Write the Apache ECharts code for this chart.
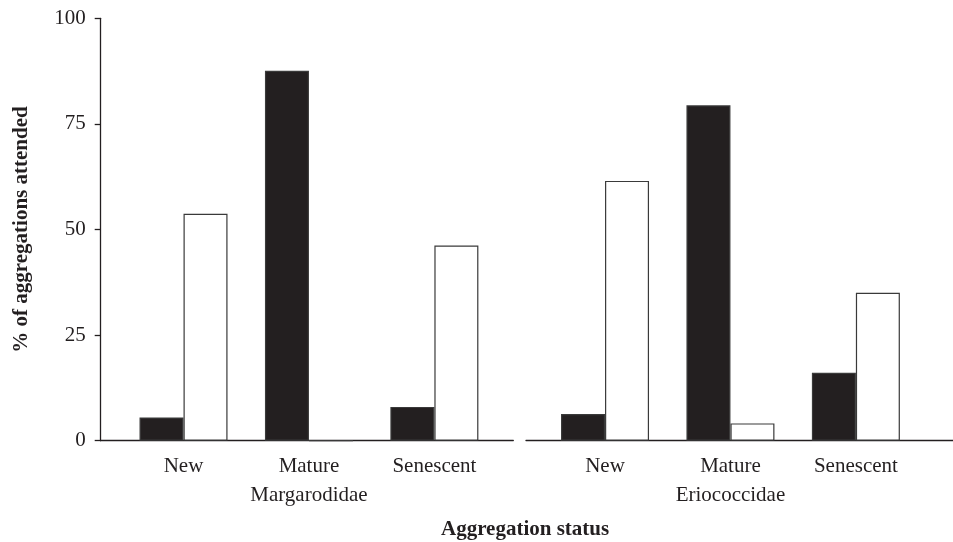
<!DOCTYPE html>
<html>
<head>
<meta charset="utf-8">
<script src="https://cdn.jsdelivr.net/npm/echarts@6/dist/echarts.min.js"></script>
<style>
html,body{margin:0;padding:0;background:#fff;}
#chart{width:953px;height:542px;}
</style>
</head>
<body>
<div id="chart"></div>
<script>
var categories = ['New', 'Mature', 'Senescent'];
var groupNames = ['Margarodidae', 'Eriococcidae'];
var yTicks = [0, 25, 50, 75, 100];
var margBlack = [5.5, 87.6, 8.0];
var margWhite = [53.7, 0, 46.2];
var erioBlack = [6.3, 79.4, 16.1];
var erioWhite = [61.5, 4.1, 35.0];
var yTitle = '% of aggregations attended';
var xTitle = 'Aggregation status';

var FONT = 'Liberation Serif';
var FS = 21;
var INK = '#231f20';
var TOP = 18.3, H = 422.4;

var chart = echarts.init(document.getElementById('chart'));

function frameX(gi) {
  return {
    type: 'category', gridIndex: gi, data: [''],
    axisLine: {show: true, lineStyle: {color: INK, width: 1.3}},
    axisTick: {show: false}, axisLabel: {show: false}, splitLine: {show: false}
  };
}
function barX(gi, name) {
  return {
    type: 'category', gridIndex: gi, data: categories,
    axisLine: {show: false}, axisTick: {show: false}, splitLine: {show: false},
    axisLabel: {show: true, margin: 15, fontFamily: FONT, fontSize: FS, color: INK},
    name: name, nameLocation: 'middle', nameGap: 44,
    nameTextStyle: {fontFamily: FONT, fontSize: FS, color: INK}
  };
}
function hiddenY(gi) {
  return {type: 'value', gridIndex: gi, min: 0, max: 100, interval: 25, show: false, splitLine: {show: false}};
}
function barSeries(gi, data, fill) {
  return {
    type: 'bar', xAxisIndex: gi, yAxisIndex: gi, data: data,
    barWidth: 44, barGap: '0%',
    itemStyle: {color: fill, borderColor: '#3a3a3a', borderWidth: 1.2},
    emphasis: {disabled: true}, silent: true
  };
}

chart.setOption({
  animation: false,
  backgroundColor: '#ffffff',
  grid: [
    {left: 100.7, top: TOP, width: 412.6, height: H},
    {left: 120.8, top: TOP, width: 376.3, height: H},
    {left: 526, top: TOP, width: 427, height: H},
    {left: 542.3, top: TOP, width: 376.3, height: H}
  ],
  xAxis: [
    frameX(0),
    barX(1, groupNames[0]),
    frameX(2),
    barX(3, groupNames[1])
  ],
  yAxis: [
    {
      type: 'value', gridIndex: 0, min: yTicks[0], max: yTicks[yTicks.length - 1], interval: 25,
      axisLine: {show: true, lineStyle: {color: INK, width: 1.3}},
      axisTick: {show: true, length: 6, lineStyle: {color: INK, width: 1.3}},
      axisLabel: {margin: 15, fontFamily: FONT, fontSize: FS, color: INK},
      splitLine: {show: false},
      name: yTitle, nameLocation: 'middle', nameRotate: 90, nameGap: 69,
      nameTextStyle: {fontFamily: FONT, fontSize: FS, fontWeight: 'bold', color: INK}
    },
    hiddenY(1), hiddenY(2), hiddenY(3)
  ],
  graphic: [{
    type: 'text', left: 441, top: 519,
    style: {text: xTitle, font: 'bold 21px "Liberation Serif"', fill: INK}
  }],
  series: [
    barSeries(1, margBlack, INK),
    barSeries(1, margWhite, '#ffffff'),
    barSeries(3, erioBlack, INK),
    barSeries(3, erioWhite, '#ffffff')
  ]
});
</script>
</body>
</html>
